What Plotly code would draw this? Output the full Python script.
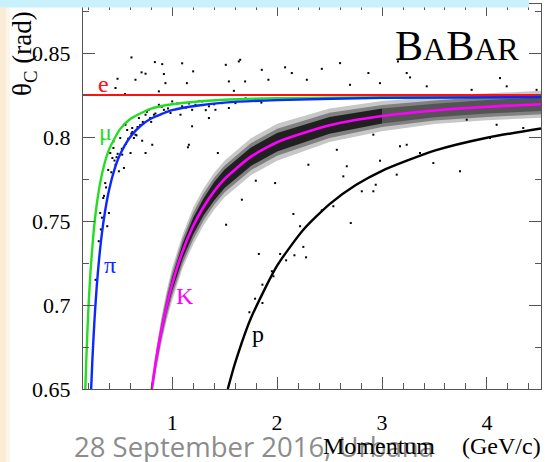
import plotly.graph_objects as go

# ---- Cherenkov angle (rad) versus track momentum (GeV/c) for each mass hypothesis ----
e_p = [0.15, 4.515]
e_theta = [0.825, 0.825]

mu_p = [0.1722, 0.18, 0.20, 0.22, 0.25, 0.28, 0.32, 0.36, 0.40, 0.50, 0.60, 0.80,
        1.0, 1.5, 2.0, 3.0, 4.515]
mu_theta = [0.650, 0.6652, 0.6960, 0.7185, 0.7426, 0.7594, 0.7748, 0.7853, 0.7928,
            0.8044, 0.8107, 0.8169, 0.8195, 0.8222, 0.8231, 0.8237, 0.8240]

pi_p = [0.2275, 0.24, 0.26, 0.28, 0.30, 0.33, 0.36, 0.40, 0.45, 0.50, 0.60, 0.70,
        0.80, 1.0, 1.25, 1.5, 2.0, 3.0, 4.515]
pi_theta = [0.650, 0.6681, 0.6917, 0.7103, 0.7251, 0.7425, 0.7557, 0.7689, 0.7807,
            0.7891, 0.8000, 0.8067, 0.8110, 0.8160, 0.8188, 0.8205, 0.8220, 0.8233, 0.8238]

K_p = [0.805, 0.85, 0.90, 0.95, 1.0, 1.1, 1.2, 1.3, 1.4, 1.5, 1.75, 2.0, 2.5, 3.0,
       3.5, 4.0, 4.515]
K_theta = [0.650, 0.6685, 0.6857, 0.7002, 0.7125, 0.7321, 0.7470, 0.7585, 0.7677,
           0.7751, 0.7883, 0.7969, 0.8070, 0.8125, 0.8158, 0.8180, 0.8195]

p_p = [1.53, 1.6, 1.75, 2.0, 2.25, 2.5, 2.75, 3.0, 3.5, 4.0, 4.515]
p_theta = [0.650, 0.6655, 0.6921, 0.7234, 0.7448, 0.7601, 0.7714, 0.7799, 0.7919,
           0.7996, 0.8051]

# spread of the measured kaon angles around the expected curve (half widths, rad)
K_outer_half = [0.006, 0.007, 0.008, 0.009, 0.010, 0.010, 0.011, 0.011, 0.011, 0.011,
                0.011, 0.011, 0.010, 0.009, 0.008, 0.008, 0.008]
K_mid_half = [0.004, 0.005, 0.006, 0.0065, 0.007, 0.0075, 0.008, 0.008, 0.008, 0.008,
              0.008, 0.008, 0.0075, 0.0065, 0.006, 0.006, 0.006]
K_core_half = [0.002, 0.0025, 0.003, 0.0035, 0.004, 0.0045, 0.005, 0.005, 0.0055, 0.0055,
               0.0055, 0.0055, 0.005, 0.0045, 0.004, 0.004, 0.004]

# isolated tracks (momentum, angle)
stray_p = [0.612, 0.835, 0.905, 1.095, 1.20, 0.708, 0.746, 0.921, 0.650, 0.936, 0.460,
           0.873, 0.550, 1.635, 1.54, 1.588, 1.159, 0.810, 0.714, 1.19, 1.35, 1.854,
           2.076, 2.14, 2.283, 2.426, 2.60, 2.87, 2.98, 1.695, 1.917, 2.695, 3.152,
           2.298, 2.664, 2.569, 2.917, 3.235, 3.267, 3.426, 4.124, 4.188, 3.854, 4.473,
           3.171, 3.235, 3.489, 3.743, 4.029, 3.807, 4.092, 4.346, 3.14, 3.362, 2.631,
           2.981, 1.797, 1.981, 1.664, 2.155, 2.219, 2.702, 2.536, 2.807, 2.917, 2.94,
           2.426, 1.826, 2.029, 2.165, 2.25, 2.276, 2.086, 1.95, 1.965, 1.86, 1.79,
           1.86, 1.736, 1.435, 1.514, 1.15, 0.746, 1.511, 1.648, 1.14, 0.479, 0.381,
           0.397]
stray_theta = [0.8474, 0.8446, 0.8434, 0.8439, 0.8391, 0.8385, 0.8377, 0.8375, 0.8341,
               0.8321, 0.8292, 0.8272, 0.8256, 0.8450, 0.8331, 0.8275, 0.7954, 0.7954,
               0.7978, 0.8064, 0.8113, 0.8400, 0.8415, 0.8381, 0.8341, 0.8406, 0.8440,
               0.8381, 0.8321, 0.8331, 0.8341, 0.8311, 0.8450, 0.7835, 0.7826, 0.7924,
               0.8014, 0.8381, 0.8355, 0.8302, 0.8351, 0.8302, 0.8281, 0.8281, 0.7945,
               0.7954, 0.7845, 0.7796, 0.7994, 0.8103, 0.8073, 0.8054, 0.7776, 0.7905,
               0.7766, 0.7859, 0.7740, 0.7726, 0.7627, 0.7542, 0.7469, 0.7488, 0.7588,
               0.7677, 0.7677, 0.7716, 0.7564, 0.7304, 0.7304, 0.7296, 0.7346, 0.7284,
               0.7266, 0.7201, 0.7171, 0.7121, 0.7038, 0.7012, 0.6957, 0.7905, 0.7478,
               0.7939, 0.7905, 0.8430, 0.8460, 0.8321, 0.8347, 0.7469, 0.7548]

# tracks scattered around the pion and muon curves
pimu_p = [0.44, 0.524, 0.555, 0.619, 0.650, 0.683, 0.746, 0.778, 0.873, 1.0, 1.095,
          1.222, 1.35, 1.476, 0.44, 0.46, 0.54, 0.492, 0.603, 0.635, 0.730, 0.826,
          0.921, 0.984, 1.079, 1.19, 1.286, 1.412, 1.54, 1.603, 0.41, 0.43, 0.39,
          0.505, 0.571, 0.695, 0.79, 0.362, 0.343, 0.314, 0.33, 0.35, 0.37, 0.42,
          0.47, 0.52, 0.58, 0.62, 0.67, 0.72, 0.76, 0.84, 0.90, 0.96, 1.05, 1.13,
          1.26, 1.40, 1.70, 1.85, 2.05, 0.30, 0.32, 0.48, 0.56, 0.66, 0.80, 0.94,
          1.16, 1.32, 0.27, 0.45, 0.61]
pimu_theta = [0.7935, 0.7895, 0.8073, 0.8054, 0.8014, 0.8113, 0.8133, 0.8162, 0.8192,
              0.8212, 0.8183, 0.8192, 0.8183, 0.8202, 0.7974, 0.7835, 0.7816, 0.7796,
              0.7905, 0.7994, 0.8083, 0.8133, 0.8162, 0.8143, 0.8133, 0.8162, 0.8212,
              0.8162, 0.8173, 0.8202, 0.7905, 0.7875, 0.7804, 0.7994, 0.8042, 0.8071,
              0.8113, 0.7726, 0.7637, 0.7548, 0.7520, 0.7650, 0.7700, 0.7790, 0.7880,
              0.7930, 0.7990, 0.8030, 0.8060, 0.8090, 0.8150, 0.8140, 0.8180, 0.8170,
              0.8200, 0.8175, 0.8215, 0.8195, 0.8230, 0.8205, 0.8228, 0.7380, 0.7450,
              0.7900, 0.7960, 0.8010, 0.8090, 0.8150, 0.8200, 0.8160, 0.7150, 0.7860,
              0.8020]

x_ticks = [1, 2, 3, 4]

SERIF = "Liberation Serif"
AXIS_GREY = "#555555"

# page geometry (pixels) of the plotting frame
W, H = 545, 462
L, R, T, B = 83, 4, 4, 73


def px_x(x):
    return (x - L) / (W - L - R)


def px_y(y):
    return (H - B - y) / (H - T - B)


def band(xs, centre, half):
    upper = [c + h for c, h in zip(centre, half)]
    lower = [c - h for c, h in zip(centre, half)]
    return xs + xs[::-1], upper + lower[::-1]


def add_band(xs, centre, half, alpha):
    bx, by = band(xs, centre, half)
    fig.add_trace(go.Scatter(x=bx, y=by, mode="none", fill="toself",
                             fillcolor=f"rgba(0,0,0,{alpha})",
                             hoverinfo="skip", showlegend=False))


fig = go.Figure()

# kaon band: soft halo, denser middle and a dark core (fainter above 3 GeV/c)
add_band(K_p, K_theta, K_outer_half, 0.22)
add_band(K_p, K_theta, K_mid_half, 0.35)
add_band(K_p[:14], K_theta[:14], K_core_half[:14], 0.75)
add_band(K_p[13:], K_theta[13:], K_core_half[13:], 0.35)

dot = dict(symbol="square", size=2, color="black", line=dict(width=0))
fig.add_trace(go.Scatter(x=pimu_p, y=pimu_theta, mode="markers", marker=dot,
                         hoverinfo="skip", showlegend=False))
fig.add_trace(go.Scatter(x=stray_p, y=stray_theta, mode="markers", marker=dot,
                         hoverinfo="skip", showlegend=False))

# expected angles
curves = [
    (p_p, p_theta, "black", 2.4),
    (K_p, K_theta, "#ff00ff", 2.6),
    (mu_p, mu_theta, "#22dd22", 2.4),
    (pi_p, pi_theta, "#0a28ff", 2.4),
    (e_p, e_theta, "#ff1010", 2.0),
]
for xs, ys, col, w in curves:
    fig.add_trace(go.Scatter(x=xs, y=ys, mode="lines",
                             line=dict(color=col, width=w, shape="spline", smoothing=0.6),
                             hoverinfo="skip", showlegend=False))

ann = []


def label(text, x, y, color="black", size=24, family=SERIF, **kw):
    ann.append(dict(text=text, x=px_x(x), y=px_y(y), xref="paper", yref="paper",
                    showarrow=False, xanchor="center", yanchor="middle",
                    font=dict(family=family, size=size, color=color), **kw))


# particle labels
label("e", 103, 84, color="#ff1010")
label("μ", 105, 132, color="#22dd22")
label("π", 110, 265, color="#0a28ff")
label("K", 185, 296, color="#ff00ff")
label("p", 258, 334, color="black")

# experiment name in small capitals
label("B<span style='font-size:32px'>A</span>B<span style='font-size:32px'>AR</span>",
      457, 46, size=42)

# axis titles
label("θ<sub>C</sub> (rad)", 24, 54, size=27, textangle=-90)
label("28 September 2016, Urbana", 254, 446, color="#8c8c8c", size=27.5,
      family="Open Sans")
label("Momentum", 379, 446, size=24)
label("(GeV/c)", 501, 446, size=24)

shapes = [
    # slide border strips
    dict(type="rect", xref="paper", yref="paper", layer="above",
         x0=px_x(-2), x1=px_x(6), y0=px_y(H + 2), y1=px_y(7),
         fillcolor="#fbecd6", line=dict(width=0)),
    dict(type="rect", xref="paper", yref="paper", layer="above",
         x0=px_x(6), x1=px_x(10), y0=px_y(H + 2), y1=px_y(7),
         fillcolor="#fdf5ea", line=dict(width=0)),
    dict(type="rect", xref="paper", yref="paper", layer="above",
         x0=px_x(-2), x1=px_x(529), y0=px_y(7.5), y1=px_y(-2),
         fillcolor="#c8f1fb", line=dict(width=0)),
]

tick_font = dict(family=SERIF, size=22, color="black")

fig.update_layout(
    width=W, height=H,
    margin=dict(l=L, r=R, t=T, b=B),
    paper_bgcolor="white", plot_bgcolor="white",
    font=dict(family=SERIF, size=22, color="black"),
    xaxis=dict(range=[0.15, 4.515], tickvals=x_ticks, ticklabelstandoff=14,
               tickfont=tick_font,
               ticks="inside", ticklen=12, tickwidth=1, tickcolor=AXIS_GREY,
               showline=True, linecolor=AXIS_GREY, linewidth=1, mirror="allticks",
               showgrid=False, zeroline=False,
               minor=dict(dtick=0.2, tick0=0, ticks="inside", ticklen=6,
                          tickcolor=AXIS_GREY, showgrid=False)),
    yaxis=dict(range=[0.65, 0.8792], tick0=0.65, dtick=0.05, ticklabelstandoff=7,
               tickfont=tick_font,
               ticks="inside", ticklen=12, tickwidth=1, tickcolor=AXIS_GREY,
               showline=True, linecolor=AXIS_GREY, linewidth=1, mirror="allticks",
               showgrid=False, zeroline=False,
               minor=dict(dtick=0.025, tick0=0.65, ticks="inside", ticklen=6,
                          tickcolor=AXIS_GREY, showgrid=False)),
    annotations=ann,
    shapes=shapes,
    showlegend=False,
)

fig.write_html("out.html")
